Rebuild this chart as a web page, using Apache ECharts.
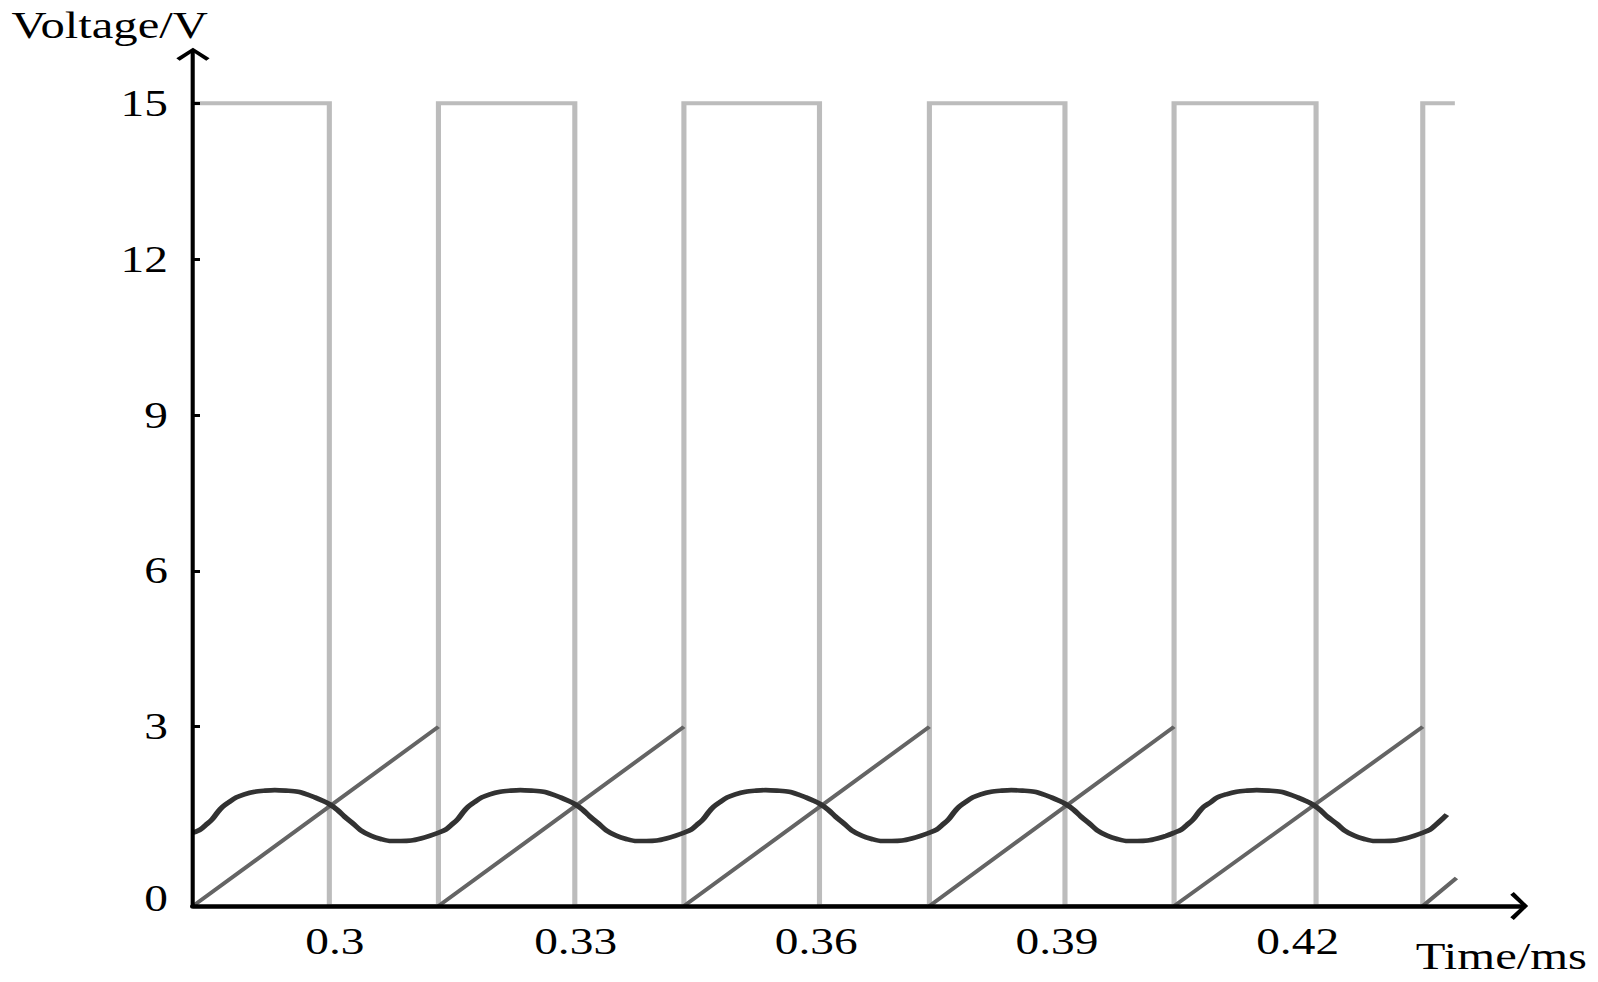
<!DOCTYPE html>
<html>
<head>
    <meta charset="utf-8">
    <style>
        html, body {
            margin: 0;
            padding: 0;
            overflow: hidden;
            background: #fff;
        }
        /* the figure is a horizontally stretched plot, so draw it narrow and stretch it */
        #chart-container {
            width: 1248px;
            height: 982px;
            transform: scaleX(1.2804);
            transform-origin: 0 0;
        }
    </style>
</head>
<body>
    <div id="chart-container"></div>

    <script type="text/javascript" src="https://cdn.jsdelivr.net/npm/echarts@6.0.0/dist/echarts.min.js"></script>
    <script type="text/javascript">
        // time in ms, voltage in V
        var pwmRise = [0.2823, 0.3129, 0.3435, 0.3741, 0.4046, 0.4356];
        var pwmFall = [0.2993, 0.3299, 0.3604, 0.3910, 0.4223];
        var pwmEnd = 0.4396;
        var pwmHigh = 15;
        var pwmLow = -0.45;

        var rampPeak = 3.0;
        var rampLast = [0.4398, 0.09];

        // ripple curve, read point by point
        var ripple = [
            [0.2823, 0.96], [0.2832, 1.02], [0.2839, 1.11], [0.2847, 1.22], [0.2854, 1.36], [0.2860, 1.46], [0.2867, 1.54], [0.2877, 1.64],
            [0.2887, 1.70], [0.2900, 1.75], [0.2913, 1.77], [0.2925, 1.78], [0.2939, 1.77], [0.2954, 1.75], [0.2965, 1.70], [0.2975, 1.64],
            [0.2984, 1.58], [0.2993, 1.51], [0.3003, 1.40], [0.3012, 1.27], [0.3023, 1.13], [0.3032, 1.01], [0.3045, 0.90], [0.3057, 0.84],
            [0.3070, 0.80], [0.3082, 0.80], [0.3095, 0.81], [0.3107, 0.85], [0.3118, 0.90],
            [0.3129, 0.96], [0.3138, 1.02], [0.3145, 1.11], [0.3153, 1.22], [0.3160, 1.36], [0.3166, 1.46], [0.3173, 1.54], [0.3183, 1.64],
            [0.3193, 1.70], [0.3206, 1.75], [0.3219, 1.77], [0.3231, 1.78], [0.3245, 1.77], [0.3260, 1.75], [0.3271, 1.70], [0.3281, 1.64],
            [0.3290, 1.58], [0.3299, 1.51], [0.3309, 1.40], [0.3318, 1.27], [0.3329, 1.13], [0.3338, 1.01], [0.3351, 0.90], [0.3363, 0.84],
            [0.3376, 0.80], [0.3388, 0.80], [0.3401, 0.81], [0.3413, 0.85], [0.3424, 0.90],
            [0.3435, 0.96], [0.3444, 1.02], [0.3451, 1.11], [0.3459, 1.22], [0.3466, 1.36], [0.3472, 1.46], [0.3479, 1.54], [0.3489, 1.64],
            [0.3499, 1.70], [0.3512, 1.75], [0.3525, 1.77], [0.3537, 1.78], [0.3551, 1.77], [0.3566, 1.75], [0.3577, 1.70], [0.3587, 1.64],
            [0.3596, 1.58], [0.3605, 1.51], [0.3615, 1.40], [0.3624, 1.27], [0.3635, 1.13], [0.3644, 1.01], [0.3657, 0.90], [0.3669, 0.84],
            [0.3682, 0.80], [0.3694, 0.80], [0.3707, 0.81], [0.3719, 0.85], [0.3730, 0.90],
            [0.3741, 0.96], [0.3750, 1.02], [0.3757, 1.11], [0.3765, 1.22], [0.3772, 1.36], [0.3778, 1.46], [0.3785, 1.54], [0.3795, 1.64],
            [0.3805, 1.70], [0.3818, 1.75], [0.3831, 1.77], [0.3843, 1.78], [0.3857, 1.77], [0.3872, 1.75], [0.3883, 1.70], [0.3893, 1.64],
            [0.3902, 1.58], [0.3911, 1.51], [0.3921, 1.40], [0.3930, 1.27], [0.3941, 1.13], [0.3950, 1.01], [0.3963, 0.90], [0.3975, 0.84],
            [0.3988, 0.80], [0.4000, 0.80], [0.4013, 0.81], [0.4025, 0.85], [0.4036, 0.90],
            [0.4046, 0.96], [0.4055, 1.02], [0.4062, 1.11], [0.4070, 1.22], [0.4077, 1.36], [0.4083, 1.46], [0.4091, 1.54], [0.4100, 1.64],
            [0.4111, 1.70], [0.4124, 1.75], [0.4137, 1.77], [0.4149, 1.78], [0.4164, 1.77], [0.4179, 1.75], [0.4190, 1.70], [0.4200, 1.64],
            [0.4209, 1.58], [0.4218, 1.51], [0.4228, 1.40], [0.4237, 1.27], [0.4249, 1.13], [0.4258, 1.01], [0.4271, 0.90], [0.4283, 0.84],
            [0.4296, 0.80], [0.4308, 0.80], [0.4322, 0.81], [0.4334, 0.85], [0.4345, 0.90],
            [0.4356, 0.96], [0.4365, 1.02], [0.4372, 1.11], [0.4380, 1.22], [0.4386, 1.31]
        ];

        var timeLabels = [0.3, 0.33, 0.36, 0.39, 0.42];
        var voltLabels = [0, 3, 6, 9, 12, 15];

        var FONT = '"Liberation Serif", "Times New Roman", serif';
        var ARROW = 'path://M10,0 L20,8 L18,10 L10,3.2 L2,10 L0,8 Z';

        // square wave as steps
        var pwm = [[pwmRise[0], pwmHigh]];
        for (var i = 0; i < pwmFall.length; i++) {
            pwm.push([pwmFall[i], pwmHigh], [pwmFall[i], pwmLow]);
            pwm.push([pwmRise[i + 1], pwmLow], [pwmRise[i + 1], pwmHigh]);
        }
        pwm.push([pwmEnd, pwmHigh]);

        // sawtooth ramps, restart on every rising edge
        var ramp = [];
        for (var j = 0; j < pwmRise.length - 1; j++) {
            ramp.push([pwmRise[j], pwmLow], [pwmRise[j + 1], rampPeak], [pwmRise[j + 1], '-']);
        }
        ramp.push([pwmRise[pwmRise.length - 1], pwmLow], rampLast);

        var chartDom = document.getElementById('chart-container');
        var myChart = echarts.init(chartDom, null, { renderer: 'svg' });

        var option = {
            animation: false,
            backgroundColor: '#fff',
            grid: {
                left: 150.7,
                right: 58.5,
                top: 51.3,
                bottom: 76,
                containLabel: false,
                outerBoundsMode: 'none'
            },
            xAxis: {
                type: 'value',
                min: 0.2823,
                max: 0.4481,
                z: 5,
                name: 'Time/ms',
                nameLocation: 'end',
                nameGap: 50,
                nameTextStyle: {
                    fontFamily: FONT,
                    fontSize: 38,
                    color: '#000',
                    align: 'right',
                    verticalAlign: 'top',
                    padding: [31, 0, 0, 0]
                },
                axisLine: {
                    onZero: false,
                    symbol: ['none', ARROW],
                    symbolSize: [29, 14],
                    symbolOffset: [0, -3],
                    lineStyle: { color: '#000', width: 4.5 }
                },
                axisTick: { show: false },
                splitLine: { show: false },
                axisLabel: {
                    customValues: timeLabels,
                    margin: 17,
                    fontFamily: FONT,
                    fontSize: 37,
                    color: '#000',
                    formatter: function (v) { return String(+v.toFixed(2)); }
                }
            },
            yAxis: {
                type: 'value',
                min: pwmLow,
                max: 16,
                z: 5,
                name: 'Voltage/V',
                nameLocation: 'end',
                nameGap: 7,
                nameTextStyle: {
                    fontFamily: FONT,
                    fontSize: 38,
                    color: '#000',
                    align: 'center',
                    verticalAlign: 'bottom',
                    padding: [0, 130, 0, 0]
                },
                axisLine: {
                    show: true,
                    onZero: false,
                    symbol: ['none', ARROW],
                    symbolSize: [26, 13],
                    symbolOffset: [0, -3],
                    lineStyle: { color: '#000', width: 3.2 }
                },
                axisTick: {
                    show: true,
                    inside: true,
                    length: 5.5,
                    customValues: [3, 6, 9, 12, 15],
                    lineStyle: { color: '#000', width: 3 }
                },
                splitLine: { show: false },
                axisLabel: {
                    customValues: voltLabels,
                    margin: 19.5,
                    fontFamily: FONT,
                    fontSize: 37,
                    color: '#000',
                    formatter: function (v) { return v === 0 ? '{zero|0}' : String(v); },
                    rich: {
                        zero: {
                            fontFamily: FONT,
                            fontSize: 37,
                            color: '#000',
                            padding: [32, 0, 0, 0]
                        }
                    }
                }
            },
            series: [
                {
                    name: 'PWM',
                    type: 'line',
                    data: pwm,
                    showSymbol: false,
                    lineStyle: { color: '#bcbcbc', width: 4, join: 'miter' }
                },
                {
                    name: 'Carrier',
                    type: 'line',
                    data: ramp,
                    showSymbol: false,
                    connectNulls: false,
                    lineStyle: { color: '#646464', width: 3.6 }
                },
                {
                    name: 'Ripple',
                    type: 'line',
                    data: ripple,
                    showSymbol: false,
                    smooth: 0.3,
                    lineStyle: { color: '#323232', width: 4.6 }
                }
            ]
        };
        myChart.setOption(option);
    </script>
</body>
</html>
